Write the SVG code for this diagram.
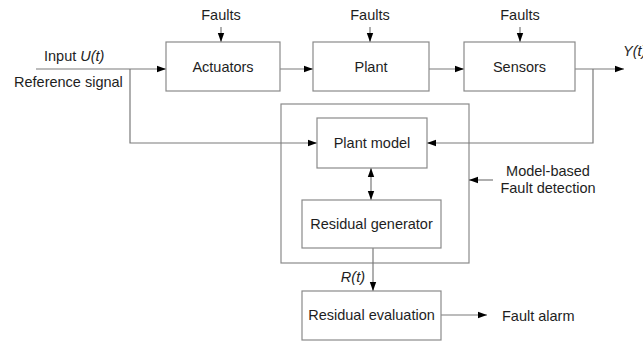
<svg xmlns="http://www.w3.org/2000/svg" width="643" height="341" viewBox="0 0 643 341">
  <style>
    .box { fill: #ffffff; stroke: #8a8a8a; stroke-width: 1.2; }
    .line { fill: none; stroke: #7a7a7a; stroke-width: 1.2; }
    text { font-family: "Liberation Sans", Arial, sans-serif; font-size: 14.5px; fill: #1e1e1e; }
    .mid { text-anchor: middle; }
    .it { font-style: italic; }
  </style>
  <defs>
    <marker id="arrow" markerUnits="userSpaceOnUse" markerWidth="10" markerHeight="8" refX="9" refY="4" orient="auto">
      <path d="M0,0.8 L9,4 L0,7.2 Z" fill="#000000"/>
    </marker>
    <marker id="arrowStart" markerUnits="userSpaceOnUse" markerWidth="10" markerHeight="8" refX="0" refY="4" orient="auto">
      <path d="M9,0.8 L0,4 L9,7.2 Z" fill="#000000"/>
    </marker>
  </defs>

  <rect width="643" height="341" fill="#ffffff"/>

  <!-- model-based fault detection frame -->
  <g id="detector">
    <rect class="box" x="281" y="104" width="188" height="159"/>
  </g>

  <g id="connectors">
    <path class="line" d="M36,69 H166" marker-end="url(#arrow)"/>
    <path class="line" d="M130,69 V143 H317" marker-end="url(#arrow)"/>
    <path class="line" d="M280,69 H313" marker-end="url(#arrow)"/>
    <path class="line" d="M429,69 H464" marker-end="url(#arrow)"/>
    <path class="line" d="M575,69 H624" marker-end="url(#arrow)"/>
    <path class="line" d="M593,69 V143 H427" marker-end="url(#arrow)"/>
    <path class="line" d="M221,27 V42" marker-end="url(#arrow)"/>
    <path class="line" d="M370,27 V42" marker-end="url(#arrow)"/>
    <path class="line" d="M520,27 V42" marker-end="url(#arrow)"/>
    <path class="line" d="M371,168 V200" marker-start="url(#arrowStart)" marker-end="url(#arrow)"/>
    <path class="line" d="M373,248 V291" marker-end="url(#arrow)"/>
    <path class="line" d="M441,315 H487" marker-end="url(#arrow)"/>
    <path class="line" d="M493,180 H469" marker-end="url(#arrow)"/>
  </g>

  <g id="actuators">
    <rect class="box" x="166" y="42" width="114" height="49"/>
    <text class="mid" x="223" y="72">Actuators</text>
  </g>
  <g id="plant">
    <rect class="box" x="313" y="42" width="116" height="49"/>
    <text class="mid" x="371" y="72">Plant</text>
  </g>
  <g id="sensors">
    <rect class="box" x="464" y="42" width="111" height="49"/>
    <text class="mid" x="519.5" y="72">Sensors</text>
  </g>
  <g id="plant-model">
    <rect class="box" x="317" y="118" width="110" height="50"/>
    <text class="mid" x="372" y="148">Plant model</text>
  </g>
  <g id="residual-generator">
    <rect class="box" x="302" y="200" width="139" height="48"/>
    <text class="mid" x="371.5" y="229">Residual generator</text>
  </g>
  <g id="residual-evaluation">
    <rect class="box" x="302" y="291" width="139" height="49"/>
    <text class="mid" x="371.5" y="320">Residual evaluation</text>
  </g>

  <g id="labels">
    <text class="mid" x="221" y="20">Faults</text>
    <text class="mid" x="370" y="20">Faults</text>
    <text class="mid" x="520" y="20">Faults</text>
    <text x="44" y="61">Input <tspan class="it">U(t)</tspan></text>
    <text x="14" y="87">Reference signal</text>
    <text class="it" x="623" y="56">Y(t)</text>
    <text class="it" x="365" y="282" text-anchor="end">R(t)</text>
    <text x="502" y="321">Fault alarm</text>
    <text class="mid" x="548" y="176">Model-based</text>
    <text class="mid" x="548" y="193">Fault detection</text>
  </g>
</svg>
